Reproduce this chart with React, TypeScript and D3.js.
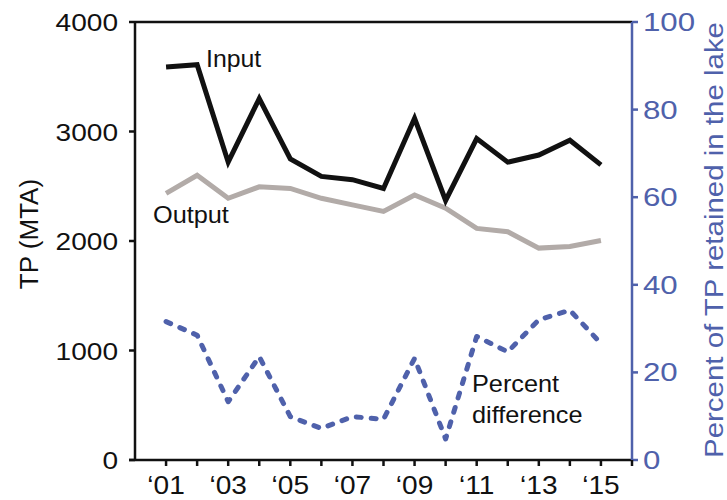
import { useMemo } from "react";
import * as d3 from "d3";

const years = [2001, 2002, 2003, 2004, 2005, 2006, 2007, 2008, 2009, 2010, 2011, 2012, 2013, 2014, 2015];
const inputTP = [3590, 3610, 2720, 3300, 2750, 2590, 2560, 2480, 3120, 2370, 2935, 2720, 2785, 2920, 2695];
const outputTP = [2435, 2600, 2390, 2495, 2480, 2390, 2330, 2270, 2420, 2300, 2115, 2085, 1935, 1950, 2005];
const percentDiff = [31.6, 28.5, 13.3, 23.6, 9.9, 7.2, 9.9, 9.3, 23.2, 4.8, 28.2, 24.7, 32.0, 34.2, 26.6];

const leftTicks = [0, 1000, 2000, 3000, 4000];
const rightTicks = [0, 20, 40, 60, 80, 100];
const labelYears = [2001, 2003, 2005, 2007, 2009, 2011, 2013, 2015];

const W = 727;
const H = 500;
const LEFT = 135;
const RIGHT = 632;
const TOP = 22;
const BOTTOM = 460;
const FONT = "'Liberation Sans', Arial, Helvetica, sans-serif";
const BLUE = "#4f61ab";

// text with a bit of horizontal stretch, the source font runs wide
const Txt = ({ x, y, s = 1, size, anchor = "start", fill = "#111", children }: any) => (
    <text
        transform={`translate(${x},${y}) scale(${s},1)`}
        textAnchor={anchor}
        fontSize={size}
        fontFamily={FONT}
        fill={fill}
    >
        {children}
    </text>
);

export default function App() {
    const x = useMemo(() => d3.scaleLinear().domain([2000, 2016]).range([LEFT, RIGHT]), []);
    const yL = useMemo(() => d3.scaleLinear().domain([0, 4000]).range([BOTTOM, TOP]), []);
    const yR = useMemo(() => d3.scaleLinear().domain([0, 100]).range([BOTTOM, TOP]), []);

    const lineL = d3.line<number>().x((_, i) => x(years[i])).y((d) => yL(d));
    const lineR = d3.line<number>().x((_, i) => x(years[i])).y((d) => yR(d));

    return (
        <svg width={W} height={H} style={{ position: "absolute", left: 0, top: 0, background: "#fff" }}>
            {/* frame + axes */}
            <line x1={LEFT} x2={RIGHT} y1={TOP} y2={TOP} stroke="#111" strokeWidth={2.5} />
            <line x1={LEFT} x2={LEFT} y1={TOP - 1} y2={BOTTOM + 1} stroke="#111" strokeWidth={2.5} />
            <line x1={LEFT - 6} x2={RIGHT} y1={BOTTOM} y2={BOTTOM} stroke="#111" strokeWidth={2.5} />
            <line x1={RIGHT} x2={RIGHT} y1={TOP} y2={BOTTOM} stroke={BLUE} strokeWidth={2.5} />

            {leftTicks.map((t) => (
                <g key={"l" + t}>
                    <line x1={LEFT - 6} x2={LEFT} y1={yL(t)} y2={yL(t)} stroke="#111" strokeWidth={2.5} />
                    <Txt x={118} y={yL(t) + 9} s={1.17} size={24} anchor="end">{t}</Txt>
                </g>
            ))}
            {rightTicks.map((t) => (
                <g key={"r" + t}>
                    <line x1={RIGHT} x2={RIGHT + 6} y1={yR(t)} y2={yR(t)} stroke={BLUE} strokeWidth={2.5} />
                    <Txt x={643} y={yR(t) + 9} s={1.25} size={25} fill={BLUE}>{t}</Txt>
                </g>
            ))}
            {years.concat([2016]).map((yr) => (
                <line key={"b" + yr} x1={x(yr)} x2={x(yr)} y1={BOTTOM} y2={BOTTOM + 6} stroke="#111" strokeWidth={2.5} />
            ))}
            {labelYears.map((yr) => (
                <Txt key={"t" + yr} x={x(yr)} y={494} s={1.08} size={26} anchor="middle">
                    {"\u2018" + String(yr).slice(2)}
                </Txt>
            ))}

            {/* axis titles */}
            <text
                transform={`translate(38,234) rotate(-90)`}
                textAnchor="middle"
                fontSize={26}
                fontFamily={FONT}
                fill="#111"
            >
                TP (MTA)
            </text>
            <text
                transform={`translate(723,240) rotate(-90)`}
                textAnchor="middle"
                fontSize={25}
                fontFamily={FONT}
                fill={BLUE}
                textLength={436}
                lengthAdjust="spacingAndGlyphs"
            >
                Percent of TP retained in the lake
            </text>

            {/* series */}
            <path d={lineL(outputTP)!} fill="none" stroke="#b2aba8" strokeWidth={5} />
            <path d={lineL(inputTP)!} fill="none" stroke="#111" strokeWidth={5} />
            <path
                d={lineR(percentDiff)!}
                fill="none"
                stroke={BLUE}
                strokeWidth={5}
                strokeDasharray="5 10"
                strokeLinecap="round"
                strokeLinejoin="round"
            />

            {/* annotations */}
            <Txt x={206} y={67} s={1.08} size={23}>Input</Txt>
            <Txt x={153} y={223} s={1.1} size={23}>Output</Txt>
            <Txt x={472} y={392} s={1.1} size={23}>Percent</Txt>
            <Txt x={472} y={423} s={1.1} size={23}>difference</Txt>
        </svg>
    );
}
